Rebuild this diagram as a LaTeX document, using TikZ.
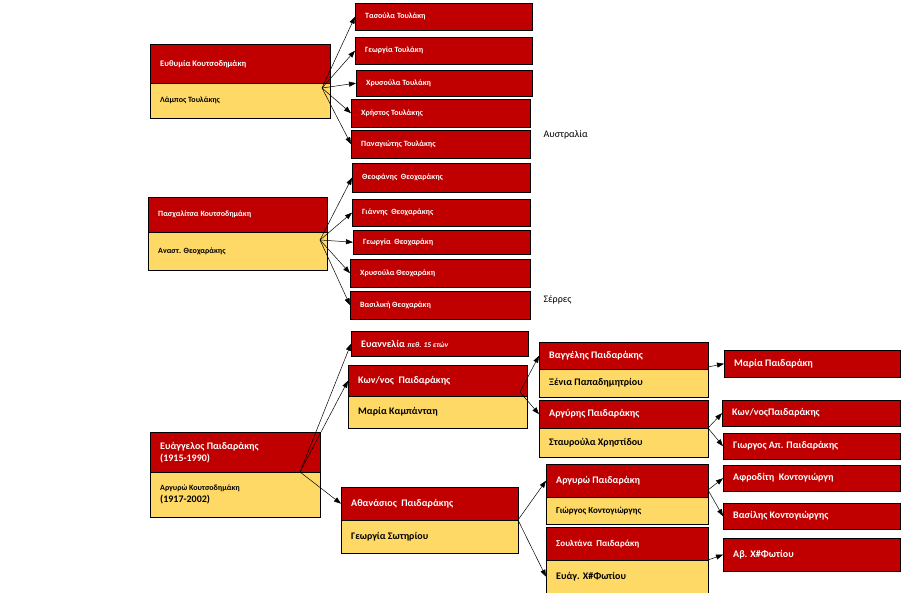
\documentclass[tikz,border=0pt]{standalone}
\usepackage{fontspec}
\setmainfont{Carlito}
\usetikzlibrary{arrows.meta}
\definecolor{rd}{RGB}{192,0,0}
\definecolor{yl}{RGB}{255,217,102}
\tikzset{
 rbox/.style={draw=black,fill=rd,line width=0.8pt},
 ybox/.style={draw=black,fill=yl,line width=0.8pt},
 tw/.style={text=white,font=\bfseries\fontsize{8.5}{10}\selectfont,anchor=west,inner sep=0pt},
 tb/.style={text=black,font=\bfseries\fontsize{8.5}{10}\selectfont,anchor=west,inner sep=0pt},
 tW/.style={tw,font=\bfseries\fontsize{10}{12}\selectfont},
 tB/.style={tb,font=\bfseries\fontsize{10}{12}\selectfont},
 ar/.style={-{Triangle[length=7pt,width=5pt]},line width=0.5pt},
}
% #1 name, #2 x1, #3 y1, #4 x2, #5 y2, #6 box style, #7 text style, #8 text
\newcommand\bx[8]{%
 \path[#6] (#2,#3) rectangle (#4,#5);
 \node[inner sep=0pt,minimum width=#4pt-#2pt,minimum height=#5pt-#3pt,anchor=north west] (#1) at (#2,#3) {};
 \node[#7] (#1t) at ([xshift=10pt]#1.west) {#8};}
\begin{document}
\begin{tikzpicture}[x=1pt,y=1pt,yscale=-1]
\useasboundingbox[fill=white] (0,0) rectangle (901,593);
% group 1
\bx{a}{150}{44}{330}{83}{rbox}{tw}{Ευθυμία Κουτσοδημάκη}
\bx{as}{150}{83}{330}{118}{ybox}{tb}{\fontsize{8}{10}\selectfont Λάμπος Τουλάκης}
\bx{a1}{355}{3}{532}{30}{rbox}{tw}{\fontsize{8}{10}\selectfont Τασούλα Τουλάκη}
\bx{a2}{355}{37}{532}{64}{rbox}{tw}{\fontsize{8}{10}\selectfont Γεωργία Τουλάκη}
\bx{a3}{356}{70}{532}{96}{rbox}{tw}{\fontsize{8}{10}\selectfont Χρυσούλα Τουλάκη}
\bx{a4}{351}{99}{530}{127}{rbox}{tw}{\fontsize{8}{10}\selectfont Χρήστος Τουλάκης}
\bx{a5}{351}{130}{530}{158}{rbox}{tw}{\fontsize{8}{10}\selectfont Παναγιώτης Τουλάκης}
\coordinate (ao) at (322,88);
\foreach \c in {a1,a2,a3,a4,a5} \draw[ar] (ao) -- (\c.west);
\node[anchor=west,font=\fontsize{10}{12}\selectfont] (au) at (540,135) {Αυστραλία};
% group 2
\bx{b}{148}{197}{327}{232}{rbox}{tw}{\fontsize{8}{10}\selectfont Πασχαλίτσα Κουτσοδημάκη}
\bx{bs}{148}{232}{327}{270}{ybox}{tb}{\fontsize{8}{10}\selectfont Αναστ. Θεοχαράκης}
\bx{b1}{352}{163}{530}{192}{rbox}{tw}{\fontsize{8}{10}\selectfont Θεοφάνης\ \ Θεοχαράκης}
\bx{b2}{352}{199}{530}{226}{rbox}{tw}{\fontsize{8}{10}\selectfont Γιάννης\ \ Θεοχαράκης}
\bx{b3}{353}{230}{530}{254}{rbox}{tw}{\fontsize{8}{10}\selectfont Γεωργία\ \ Θεοχαράκη}
\bx{b4}{350}{259}{530}{287}{rbox}{tw}{\fontsize{8}{10}\selectfont Χρυσούλα Θεοχαράκη}
\bx{b5}{350}{291}{530}{319}{rbox}{tw}{\fontsize{8}{10}\selectfont Βασιλική Θεοχαράκη}
\coordinate (bo) at (320,240);
\foreach \c in {b1,b2,b3,b4,b5} \draw[ar] (bo) -- (\c.west);
\node[anchor=west,font=\fontsize{10}{12}\selectfont] (se) at (540,300) {Σέρρες};
% group 3
\bx{c}{150}{432}{320}{472}{rbox}{tW}{\shortstack[l]{Ευάγγελος Παιδαράκης\\(1915-1990)}}
\bx{cs}{150}{472}{320}{517}{ybox}{tB}{\shortstack[l]{\fontsize{8}{10}\selectfont Αργυρώ Κουτσοδημάκη\\(1917-2002)}}
\bx{c1}{351}{331}{528}{356}{rbox}{tW}{Ευαννελία {\itshape\fontsize{7.5}{9}\selectfont πεθ. 15 ετών}}
\bx{c2}{348}{365}{527}{396}{rbox}{tW}{Κων/νος\ \ Παιδαράκης}
\bx{c2s}{348}{396}{527}{428}{ybox}{tB}{Μαρία Καμπάνταη}
\bx{c3}{341}{487}{518}{520}{rbox}{tW}{Αθανάσιος\ \ Παιδαράκης}
\bx{c3s}{341}{520}{518}{553}{ybox}{tB}{Γεωργία Σωτηρίου}
\coordinate (co) at (300,472);
\draw[ar] (co) -- (c1.west);
\draw[ar] (co) -- (c2.west);
\draw[ar] (co) -- (c3.west);
% Konstantinos
\bx{d1}{539}{342}{708}{369}{rbox}{tW}{Βαγγέλης Παιδαράκης}
\bx{d1s}{539}{369}{708}{397}{ybox}{tB}{Ξένια Παπαδημητρίου}
\bx{d2}{539}{400}{708}{428}{rbox}{tW}{Αργύρης Παιδαράκης}
\bx{d2s}{539}{428}{708}{457}{ybox}{tB}{Σταυρούλα Χρηστίδου}
\coordinate (do) at (520,392);
\draw[ar] (do) -- (d1.west);
\draw[ar] (do) -- (d2.west);
\bx{e1}{724}{350}{900}{377}{rbox}{tW}{Μαρία Παιδαράκη}
\bx{e2}{722}{400}{900}{426}{rbox}{tW}{Κων/νοςΠαιδαράκης}
\bx{e3}{723}{433}{900}{459}{rbox}{tW}{Γιωργος Απ. Παιδαράκης}
\coordinate (d1o) at (708,367);
\draw[ar] (d1o) -- (e1.west);
\coordinate (d2o) at (708,428);
\draw[ar] (d2o) -- (e2.west);
\draw[ar] (d2o) -- (e3.west);
% Athanasios
\bx{f1}{546}{464}{708}{497}{rbox}{tW}{Αργυρώ Παιδαράκη}
\bx{f1s}{546}{497}{708}{524}{ybox}{tB}{\fontsize{9}{11}\selectfont Γιώργος Κοντογιώργης}
\bx{f2}{546}{527}{708}{560}{rbox}{tW}{\fontsize{9}{11}\selectfont Σουλτάνα\ \ Παιδαράκη}
\bx{f2s}{546}{560}{708}{593}{ybox}{tB}{Ευάγ. Χ\#Φωτίου}
\coordinate (fo) at (518,520);
\draw[ar] (fo) -- (f1.west);
\draw[ar] (fo) -- (f2s.west);
\bx{g1}{723}{465}{900}{491}{rbox}{tW}{Αφροδίτη\ \ Κοντογιώργη}
\bx{g2}{723}{503}{900}{529}{rbox}{tW}{Βασίλης Κοντογιώργης}
\bx{g3}{723}{538}{900}{571}{rbox}{tW}{Αβ. Χ\#Φωτίου}
\coordinate (f1o) at (708,490);
\draw[ar] (f1o) -- (g1.west);
\draw[ar] (f1o) -- (g2.west);
\coordinate (f2o) at (708,560);
\draw[ar] (f2o) -- (g3.west);
\end{tikzpicture}
\end{document}
